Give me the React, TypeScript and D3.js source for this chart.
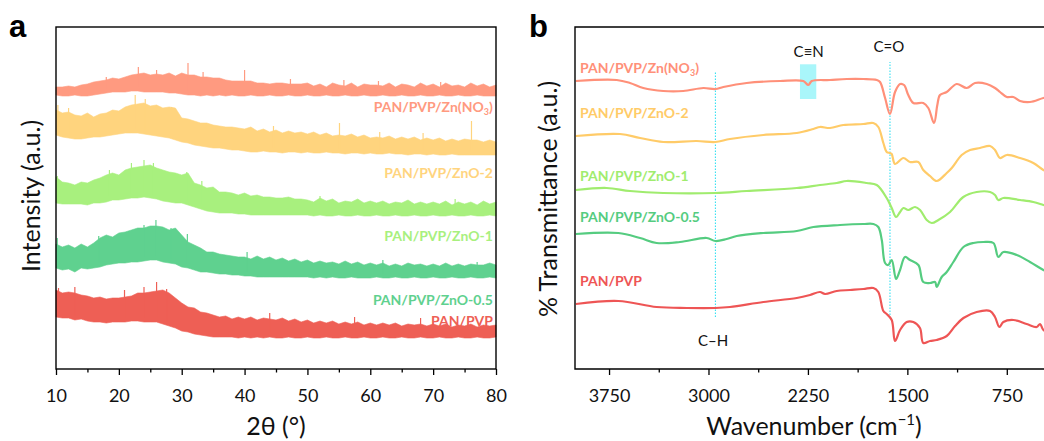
import React, { useRef, useEffect } from "react";
import * as d3 from "d3";

// ---- panel a: XRD, noisy bands kept as upper / lower envelopes (a.u.) ----
const twoTheta = [
  10, 11, 12, 13, 14, 15, 16, 17, 18, 19, 20, 21, 22, 23, 24, 25, 26, 27, 28, 29,
  30, 31, 32, 33, 34, 35, 36, 37, 38, 39, 40, 41, 42, 43, 44, 45, 46, 47, 48, 49,
  50, 51, 52, 53, 54, 55, 56, 57, 58, 59, 60, 61, 62, 63, 64, 65, 66, 67, 68, 69,
  70, 71, 72, 73, 74, 75, 76, 77, 78, 79, 80,
];

const no3Top = [
  282, 282, 283, 282, 284, 285, 287, 288, 289, 291, 290, 292, 294, 295, 296, 294, 295, 294, 296, 293,
  296, 294, 294, 292, 292, 291, 291, 289, 288, 288, 288, 288, 286, 286, 285, 286, 286, 285, 285, 285,
  286, 283, 285, 282, 286, 284, 283, 286, 282, 285, 284, 284, 283, 286, 282, 285, 284, 282, 286, 283,
  285, 282, 286, 283, 284, 282, 286, 283, 285, 282, 284,
];
const no3Bottom = [
  274, 273, 273, 274, 273, 273, 274, 275, 276, 277, 277, 277, 278, 278, 277, 277, 277, 277, 276, 276,
  275, 274, 274, 273, 274, 273, 274, 273, 274, 273, 273, 274, 273, 273, 274, 273, 273, 274, 273, 273,
  274, 273, 273, 274, 273, 273, 274, 273, 273, 274, 273, 273, 274, 273, 273, 274, 273, 273, 274, 273,
  273, 274, 273, 273, 274, 273, 273, 274, 273, 273, 273,
];
const no3Spikes = [
  [18.0, 292], [23.1, 302], [26.0, 299], [31.0, 306], [33.4, 297], [40.0, 299], [47.3, 290],
  [55.8, 289], [61.3, 288], [71.2, 287],
];

const zno2Top = [
  259, 256, 257, 254, 253, 256, 252, 255, 256, 259, 258, 262, 264, 265, 266, 263, 264, 261, 262, 261,
  251, 250, 248, 246, 246, 244, 243, 242, 242, 241, 240, 242, 238, 240, 237, 239, 236, 238, 236, 237,
  235, 237, 234, 236, 233, 234, 233, 235, 232, 234, 231, 232, 231, 233, 230, 232, 230, 232, 229, 231,
  229, 231, 228, 230, 228, 230, 229, 229, 227, 229, 227,
];
const zno2Bottom = [
  234, 232, 231, 230, 230, 231, 232, 232, 233, 234, 235, 236, 236, 236, 235, 234, 233, 232, 231, 229,
  227, 226, 224, 223, 222, 221, 221, 220, 219, 219, 218, 217, 217, 218, 217, 217, 216, 217, 217, 216,
  217, 216, 216, 217, 216, 216, 215, 216, 216, 215, 216, 215, 215, 216, 215, 215, 214, 215, 215, 214,
  215, 214, 214, 215, 214, 214, 214, 214, 214, 214, 214,
];
const zno2Spikes = [
  [10.3, 264], [12.0, 261], [22.6, 274], [24.2, 270], [28.4, 262], [44.6, 243], [55.1, 246],
  [61.5, 237], [68.4, 236], [76.1, 248],
];

const zno1Top = [
  192, 187, 186, 184, 187, 186, 189, 191, 194, 196, 194, 199, 201, 202, 203, 204, 201, 199, 197, 196,
  194, 196, 186, 184, 181, 182, 177, 177, 176, 174, 176, 173, 174, 172, 172, 171, 171, 172, 170, 170,
  169, 167, 171, 168, 170, 166, 168, 167, 170, 166, 168, 166, 168, 165, 167, 166, 169, 165, 167, 165,
  167, 165, 168, 164, 167, 165, 167, 164, 168, 165, 167,
];
const zno1Bottom = [
  166, 165, 165, 165, 165, 164, 166, 166, 167, 169, 169, 170, 171, 171, 172, 171, 170, 168, 167, 166,
  166, 164, 162, 160, 158, 157, 156, 156, 156, 155, 155, 154, 154, 154, 154, 154, 154, 154, 154, 154,
  154, 153, 154, 153, 153, 154, 153, 153, 154, 153, 153, 154, 153, 153, 154, 153, 153, 154, 153, 153,
  154, 153, 153, 154, 153, 153, 154, 153, 153, 154, 153,
];
const zno1Spikes = [
  [10.2, 193], [18.5, 199], [22.0, 206], [24.0, 209], [25.5, 206], [30.8, 197], [33.2, 188],
  [52.0, 173], [73.5, 170],
];

const zno05Top = [
  125, 122, 124, 121, 125, 122, 126, 131, 134, 132, 136, 137, 139, 141, 141, 143, 143, 142, 139, 141,
  134, 127, 124, 121, 117, 117, 115, 114, 113, 112, 112, 110, 113, 110, 112, 109, 111, 108, 110, 107,
  109, 106, 108, 106, 107, 105, 108, 105, 107, 104, 106, 104, 106, 103, 105, 103, 106, 104, 105, 103,
  105, 103, 106, 103, 105, 103, 105, 104, 104, 106, 104,
];
const zno05Bottom = [
  101, 99, 100, 97, 101, 100, 101, 102, 104, 105, 106, 106, 107, 107, 108, 109, 109, 107, 106, 105,
  102, 101, 99, 97, 97, 96, 95, 95, 94, 94, 93, 93, 92, 92, 92, 92, 92, 92, 92, 92,
  92, 91, 92, 91, 92, 91, 91, 92, 91, 91, 91, 92, 91, 91, 92, 91, 91, 92, 91, 91,
  92, 91, 91, 92, 91, 91, 92, 91, 91, 92, 91,
];
const zno05Spikes = [
  [10.2, 131], [16.8, 133], [24.0, 144], [25.9, 149], [28.3, 141], [30.9, 135], [40.4, 117],
  [62.0, 109], [77.0, 107],
];

const panTop = [
  79, 76, 77, 76, 74, 73, 71, 72, 70, 71, 71, 72, 73, 76, 76, 77, 78, 79, 76, 71,
  66, 62, 61, 57, 56, 54, 52, 53, 50, 52, 50, 52, 49, 51, 50, 49, 51, 48, 50, 47,
  49, 46, 48, 46, 48, 45, 47, 45, 47, 44, 46, 44, 46, 44, 46, 43, 45, 44, 45, 43,
  45, 43, 45, 42, 44, 43, 45, 42, 44, 43, 44,
];
const panBottom = [
  52, 51, 51, 49, 50, 48, 47, 47, 46, 47, 47, 47, 48, 48, 47, 47, 47, 45, 43, 41,
  38, 37, 35, 34, 33, 32, 32, 32, 32, 31, 32, 31, 32, 31, 32, 31, 31, 32, 31, 31,
  32, 31, 31, 32, 31, 31, 32, 31, 31, 32, 31, 31, 32, 31, 31, 32, 31, 31, 32, 31,
  31, 32, 31, 31, 32, 31, 31, 32, 31, 31, 32,
];
const panSpikes = [
  [10.4, 81], [13.0, 82], [20.9, 79], [24.0, 82], [26.0, 87], [27.6, 80], [44.0, 56],
  [57.5, 52], [68.0, 51],
];

// ---- panel b: FTIR, [wavenumber, transmittance a.u.] ----
const irNo3 = [
  [4000, 288], [3692, 289], [3592, 286], [3492, 281], [3341, 278], [3190, 278], [3039, 281],
  [2948, 280], [2888, 282], [2712, 286], [2460, 288], [2285, 288], [2247, 284], [2221, 288],
  [2083, 289], [1957, 290], [1832, 290], [1731, 289], [1706, 287], [1668, 271], [1631, 255],
  [1593, 277], [1555, 285], [1525, 284], [1493, 274], [1455, 266], [1380, 266], [1342, 261],
  [1299, 246], [1274, 264], [1254, 274], [1203, 277], [1128, 285], [1052, 281], [990, 286],
  [901, 285], [839, 281], [801, 277], [750, 272], [701, 272], [650, 268], [575, 267],
  [474, 271], [400, 273],
];
const irZnO2 = [
  [4000, 233], [3667, 235], [3516, 231], [3341, 227], [3089, 228], [2948, 227], [2838, 230],
  [2586, 234], [2334, 236], [2209, 240], [2159, 242], [2083, 241], [1983, 244], [1832, 245],
  [1757, 246], [1719, 242], [1681, 226], [1656, 217], [1631, 216], [1618, 215], [1593, 205],
  [1530, 211], [1480, 207], [1417, 207], [1380, 199], [1329, 193], [1279, 188], [1203, 196],
  [1165, 201], [1090, 214], [1027, 219], [952, 221], [876, 223], [839, 219], [801, 211],
  [750, 214], [650, 211], [550, 206], [474, 199], [400, 194],
];
const irZnO1 = [
  [4000, 179], [3768, 181], [3592, 178], [3341, 176], [2948, 176], [2712, 178], [2334, 181],
  [2159, 184], [2033, 186], [1957, 188], [1807, 186], [1731, 184], [1656, 171], [1618, 161],
  [1585, 152], [1555, 157], [1530, 161], [1493, 159], [1442, 162], [1404, 159], [1354, 149],
  [1316, 146], [1266, 149], [1178, 157], [1078, 172], [977, 177], [876, 177], [839, 174],
  [814, 169], [776, 171], [650, 169], [550, 167], [474, 164], [400, 161],
];
const irZnO05 = [
  [4000, 135], [3680, 136], [3516, 131], [3391, 126], [3215, 127], [3013, 131], [2948, 128],
  [2863, 130], [2787, 133], [2586, 136], [2334, 138], [2209, 142], [2008, 144], [1832, 145],
  [1756, 145], [1719, 142], [1693, 129], [1668, 106], [1644, 104], [1618, 109], [1585, 90],
  [1555, 99], [1518, 112], [1480, 109], [1417, 104], [1380, 87], [1329, 86], [1291, 87],
  [1279, 82], [1241, 92], [1203, 97], [1153, 107], [1077, 122], [1002, 126], [927, 127],
  [851, 126], [814, 112], [776, 117], [675, 114], [575, 107], [474, 99], [400, 94],
];
const irPan = [
  [4000, 65], [3680, 68], [3391, 62], [3164, 61], [2948, 61], [2838, 62], [2586, 67],
  [2334, 71], [2234, 74], [2159, 77], [2121, 75], [2033, 78], [1932, 79], [1832, 80],
  [1756, 81], [1719, 77], [1681, 58], [1656, 55], [1618, 49], [1593, 28], [1555, 39],
  [1505, 47], [1455, 47], [1405, 41], [1380, 26], [1329, 28], [1279, 29], [1203, 33],
  [1140, 43], [1077, 51], [977, 57], [876, 58], [839, 52], [806, 42], [776, 47], [701, 49],
  [600, 45], [524, 42], [499, 45], [474, 39], [400, 35],
];

const xrdTicks = [10, 20, 30, 40, 50, 60, 70, 80];
const xrdMinor = [15, 25, 35, 45, 55, 65, 75];
const irTicks = [3750, 3000, 2250, 1500, 750];
const irMinor = [3375, 2625, 1875, 1125];

const font = "Lato, 'Open Sans', sans-serif";

const App = () => {
  const svgRef = useRef<SVGSVGElement>(null);

  useEffect(() => {
    const svg = d3.select(svgRef.current);
    svg.selectAll("*").remove();
    const top = 27;
    const bottom = 369;

    // ---------------- panel a ----------------
    const xa = d3.scaleLinear().domain([10, 80]).range([56, 496]);
    const ya = d3.scaleLinear().domain([0, 342]).range([bottom, top]);

    const bands = [
      { name: "PAN/PVP/Zn(NO", sub: "3", close: ")", top: no3Top, bot: no3Bottom, spikes: no3Spikes, color: "#FF9A80", label: 257 },
      { name: "PAN/PVP/ZnO-2", top: zno2Top, bot: zno2Bottom, spikes: zno2Spikes, color: "#FFD47E", label: 191 },
      { name: "PAN/PVP/ZnO-1", top: zno1Top, bot: zno1Bottom, spikes: zno1Spikes, color: "#A8F07E", label: 128.5 },
      { name: "PAN/PVP/ZnO-0.5", top: zno05Top, bot: zno05Bottom, spikes: zno05Spikes, color: "#5FD18F", label: 64 },
      { name: "PAN/PVP", top: panTop, bot: panBottom, spikes: panSpikes, color: "#EE5F55", label: 43 },
    ];

    const area = d3
      .area<number>()
      .x((d) => xa(d))
      .curve(d3.curveLinear);

    bands.forEach((b) => {
      svg
        .append("path")
        .datum(twoTheta)
        .attr(
          "d",
          area.y0((d, i) => ya(b.bot[i])).y1((d, i) => ya(b.top[i]))
        )
        .attr("fill", b.color)
        .attr("stroke", b.color)
        .attr("stroke-width", 0.6)
        .attr("stroke-linejoin", "miter");

      svg
        .append("g")
        .selectAll("line")
        .data(b.spikes)
        .join("line")
        .attr("x1", (d) => xa(d[0]))
        .attr("x2", (d) => xa(d[0]))
        .attr("y1", (d) => ya(b.bot[Math.round(d[0] - 10)] + 4))
        .attr("y2", (d) => ya(d[1]))
        .attr("stroke", b.color)
        .attr("stroke-width", 1.2);

      const t = svg
        .append("text")
        .attr("x", xa(79.5))
        .attr("y", ya(b.label))
        .attr("text-anchor", "end")
        .attr("font-family", font)
        .attr("font-weight", "bold")
        .attr("font-size", 14)
        .attr("fill", b.color)
        .text(b.name);
      if (b.sub) {
        t.append("tspan").attr("font-size", 9).attr("dy", 3).text(b.sub);
        t.append("tspan").attr("dy", -3).text(b.close);
      }
    });

    // frame + axis
    svg
      .append("rect")
      .attr("x", 56)
      .attr("y", top)
      .attr("width", 440)
      .attr("height", bottom - top)
      .attr("fill", "none")
      .attr("stroke", "#000")
      .attr("stroke-width", 1.4);

    const axA = svg
      .append("g")
      .attr("transform", `translate(0,${bottom})`)
      .call(d3.axisBottom(xa).tickValues(xrdTicks).tickSize(6).tickPadding(14).tickFormat(d3.format("d")));
    svg
      .append("g")
      .attr("transform", `translate(0,${bottom})`)
      .call(d3.axisBottom(xa).tickValues(xrdMinor).tickSize(3.5).tickFormat(() => ""));

    // ---------------- panel b ----------------
    const xb = d3.scaleLinear().domain([4000, 400]).range([575.9, 1053.2]);
    const yb = d3.scaleLinear().domain([0, 342]).range([bottom, top]);

    // C≡N highlight
    svg
      .append("rect")
      .attr("x", xb(2310))
      .attr("y", yb(304.7))
      .attr("width", xb(2187) - xb(2310))
      .attr("height", yb(270) - yb(304.7))
      .attr("fill", "#A9F6FA");

    // dotted guide lines
    const guides = [
      { wn: 2948, y1: 52, y2: 297 },
      { wn: 1631, y1: 54, y2: 307 },
    ];
    guides.forEach((g) => {
      svg
        .append("line")
        .attr("x1", xb(g.wn))
        .attr("x2", xb(g.wn))
        .attr("y1", yb(g.y1))
        .attr("y2", yb(g.y2))
        .attr("stroke", "#22DDF0")
        .attr("stroke-width", 1)
        .attr("stroke-dasharray", "1.5,1.5");
    });

    const lines = [
      { name: "PAN/PVP/Zn(NO", sub: "3", close: ")", data: irNo3, color: "#FF9079", label: 296 },
      { name: "PAN/PVP/ZnO-2", data: irZnO2, color: "#FFCB68", label: 251 },
      { name: "PAN/PVP/ZnO-1", data: irZnO1, color: "#A0EC6E", label: 188.5 },
      { name: "PAN/PVP/ZnO-0.5", data: irZnO05, color: "#55CC80", label: 147 },
      { name: "PAN/PVP", data: irPan, color: "#EE5555", label: 83 },
    ];

    const line = d3
      .line<number[]>()
      .x((d) => xb(d[0]))
      .y((d) => yb(d[1]))
      .curve(d3.curveCatmullRom.alpha(0.5));

    lines.forEach((l) => {
      svg
        .append("path")
        .datum(l.data)
        .attr("d", line)
        .attr("fill", "none")
        .attr("stroke", l.color)
        .attr("stroke-width", 2.2);

      const t = svg
        .append("text")
        .attr("x", xb(3969))
        .attr("y", yb(l.label))
        .attr("font-family", font)
        .attr("font-weight", "bold")
        .attr("font-size", 14)
        .attr("fill", l.color)
        .text(l.name);
      if (l.sub) {
        t.append("tspan").attr("font-size", 9).attr("dy", 3).text(l.sub);
        t.append("tspan").attr("dy", -3).text(l.close);
      }
    });

    const notes = [
      { text: "C\u2261N", wn: 2244, y: 312 },
      { text: "C=O", wn: 1640, y: 317 },
      { text: "C\u2013H", wn: 2965, y: 23 },
    ];
    notes.forEach((n) => {
      svg
        .append("text")
        .attr("x", xb(n.wn))
        .attr("y", yb(n.y))
        .attr("text-anchor", "middle")
        .attr("font-family", font)
        .attr("font-size", 15)
        .attr("fill", "#111")
        .text(n.text);
    });

    svg
      .append("path")
      .attr("d", `M1060,${top}H575V${bottom}H1060`)
      .attr("fill", "none")
      .attr("stroke", "#000")
      .attr("stroke-width", 1.4);

    const axB = svg
      .append("g")
      .attr("transform", `translate(0,${bottom})`)
      .call(d3.axisBottom(xb).tickValues(irTicks).tickSize(6).tickPadding(14).tickFormat(d3.format("d")));
    svg
      .append("g")
      .attr("transform", `translate(0,${bottom})`)
      .call(d3.axisBottom(xb).tickValues(irMinor).tickSize(3.5).tickFormat(() => ""));

    // shared axis styling
    svg.selectAll(".domain").remove();
    svg.selectAll(".tick line").attr("stroke", "#000").attr("stroke-width", 1.3);
    [axA, axB].forEach((ax) =>
      ax
        .selectAll("text")
        .attr("font-family", font)
        .attr("font-size", 18)
        .attr("fill", "#111")
    );

    // titles
    const title = (x: number, y: number, rot: boolean) =>
      svg
        .append("text")
        .attr("transform", `translate(${x},${y})${rot ? " rotate(-90)" : ""}`)
        .attr("text-anchor", "middle")
        .attr("font-family", font)
        .attr("font-size", 25)
        .attr("fill", "#111");

    title(40, 196, true).text("Intensity (a.u.)");
    title(276, 435, false).text("2\u03B8 (\u00B0)");
    title(557, 199, true).text("% Transmittance (a.u.)");
    const wt = title(814, 435, false).text("Wavenumber (cm");
    wt.append("tspan").attr("font-size", 15).attr("dy", -10).text("\u22121");
    wt.append("tspan").attr("dy", 10).text(")");

    svg
      .append("text")
      .attr("x", 9)
      .attr("y", 37)
      .attr("font-family", "'Liberation Sans', Arial, sans-serif")
      .attr("font-weight", "bold")
      .attr("font-size", 31)
      .text("a");
    svg
      .append("text")
      .attr("x", 529)
      .attr("y", 37)
      .attr("font-family", "'Liberation Sans', Arial, sans-serif")
      .attr("font-weight", "bold")
      .attr("font-size", 31)
      .text("b");
  }, []);

  return (
    <svg
      ref={svgRef}
      width={1044}
      height={441}
      style={{ position: "absolute", left: 0, top: 0, background: "#fff" }}
    ></svg>
  );
};

export default App;
